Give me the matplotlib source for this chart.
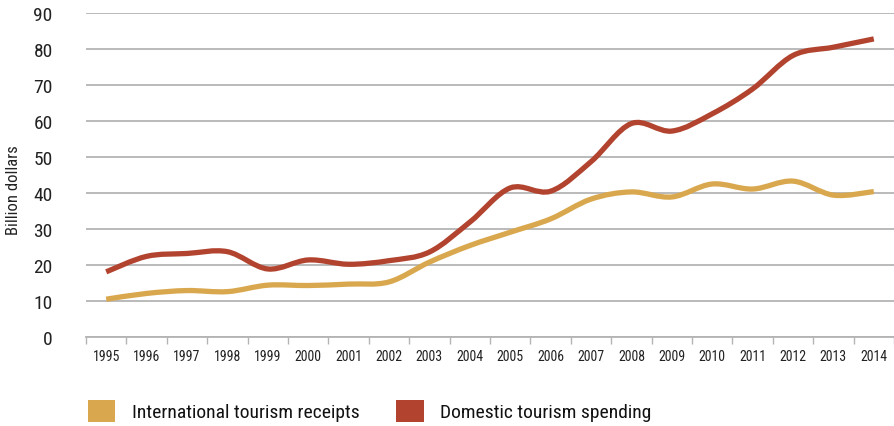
import numpy as np
import matplotlib.pyplot as plt
from matplotlib.path import Path
from matplotlib.patches import PathPatch, Patch

years = [str(y) for y in range(1995, 2015)]
international = [10.5, 12.1, 12.9, 12.6, 14.4, 14.3, 14.7, 15.3, 20.8, 25.4,
                 29.1, 32.8, 38.3, 40.3, 38.9, 42.5, 41.1, 43.3, 39.4, 40.4]
domestic = [18.1, 22.4, 23.2, 23.7, 18.9, 21.4, 20.2, 21.2, 23.6, 31.9,
            41.4, 40.5, 48.7, 59.3, 57.2, 62.0, 68.9, 78.2, 80.5, 82.8]

series_names = ["International tourism receipts", "Domestic tourism spending"]
colors = ["#d9a84e", "#b2432f"]
grid_color = "#b4b4b4"

plt.rcParams['font.family'] = ['Roboto Condensed', 'Archivo Narrow',
                               'Liberation Sans Narrow', 'DejaVu Sans']


def smooth_path(xs, ys):
    # Catmull-Rom style cubic Bezier segments through every data point
    pts = np.column_stack([xs, ys]).astype(float)
    padded = np.vstack([pts[0], pts, pts[-1]])
    verts = [pts[0]]
    codes = [Path.MOVETO]
    for i in range(len(pts) - 1):
        p0, p1, p2, p3 = padded[i:i + 4]
        verts += [p1 + (p2 - p0) / 6, p2 - (p3 - p1) / 6, p2]
        codes += [Path.CURVE4] * 3
    return Path(verts, codes)


fig = plt.figure(figsize=(8.94, 4.27), dpi=100)
ax = fig.add_axes([86 / 894, 1 - 338 / 427, 808 / 894, 324 / 427])

x = np.arange(len(years))
for vals, color in zip([international, domestic], colors):
    ax.add_patch(PathPatch(smooth_path(x, vals), fill=False, edgecolor=color,
                           lw=3.8, capstyle='butt', joinstyle='round', zorder=3))

ax.set_xlim(-0.5, len(years) - 0.5)
ax.set_ylim(0, 90)
ax.set_yticks(range(0, 91, 10))
ax.set_xticks(x, years)
ax.set_xticks(np.arange(-0.5, len(years)), minor=True)

ax.yaxis.grid(True, color=grid_color, lw=1.3)
ax.set_axisbelow(True)
for side in ['top', 'right', 'left']:
    ax.spines[side].set_visible(False)
ax.spines['bottom'].set_color(grid_color)
ax.spines['bottom'].set_linewidth(1.3)

ax.tick_params(axis='y', length=0, pad=24, labelsize=14, labelcolor='#222222')
ax.tick_params(axis='x', which='major', length=0, pad=9, labelsize=10, labelcolor='#222222')
ax.tick_params(axis='x', which='minor', length=5, width=1, color=grid_color)

fig.text(14 / 894, 1 - 190 / 427, "Billion dollars", rotation=90,
         ha='center', va='center', fontsize=12, color='#222222')

handles = [Patch(facecolor=c, edgecolor='none') for c in colors]
fig.legend(handles, series_names, loc='center left',
           bbox_to_anchor=(88 / 894, 1 - 412 / 427), ncols=2, frameon=False,
           fontsize=14, handlelength=1.4, handleheight=1.4,
           handletextpad=0.85, columnspacing=1.9, borderpad=0, borderaxespad=0,
           labelcolor='#111111')

fig.savefig("out.png", dpi=100)
